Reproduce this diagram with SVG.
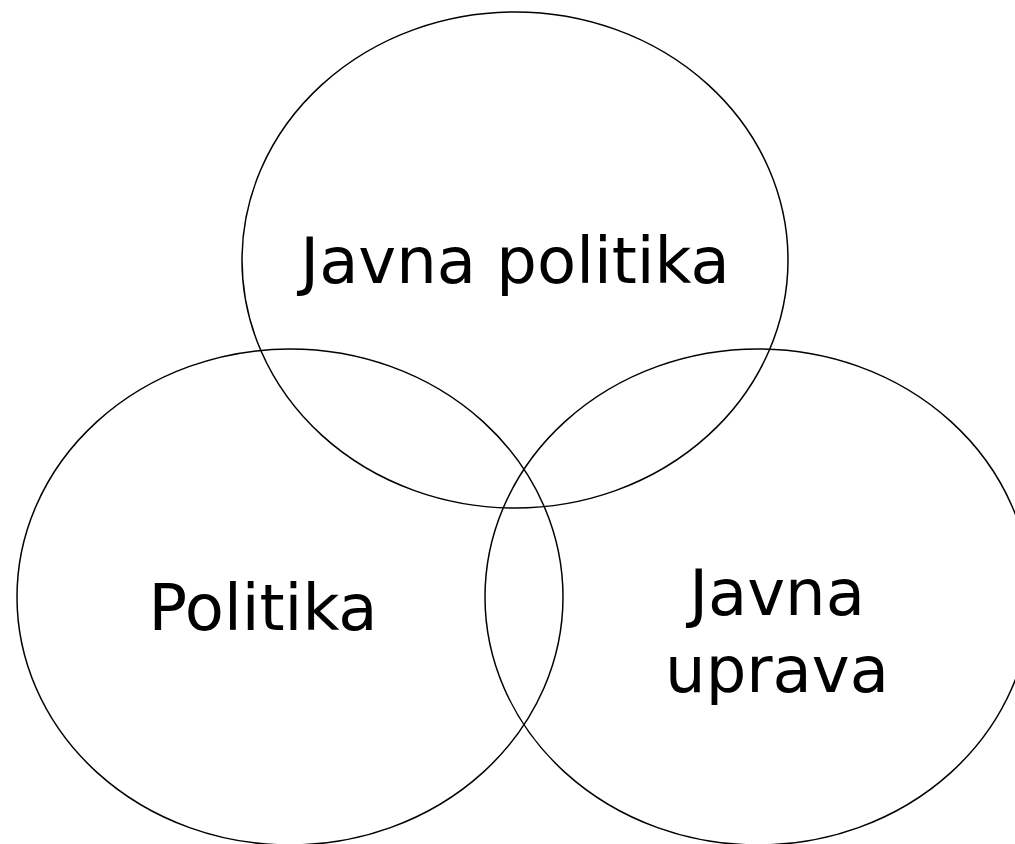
<svg xmlns="http://www.w3.org/2000/svg" width="1015" height="844" viewBox="0 0 1015 844">
<style>
.c{fill:none;stroke:#000;stroke-width:1.5}
.t{font-family:"DejaVu Sans",Verdana,sans-serif;font-size:64px;fill:#000;text-anchor:middle}
</style>
<rect width="1015" height="844" fill="#fff"/>
<g id="javna-politika">
<ellipse class="c" cx="515" cy="260" rx="273" ry="248"/>
<text class="t" x="515" y="283">Javna politika</text>
</g>
<g id="politika">
<ellipse class="c" cx="290" cy="597" rx="273" ry="248"/>
<text class="t" x="263" y="630">Politika</text>
</g>
<g id="javna-uprava">
<ellipse class="c" cx="758" cy="597" rx="273" ry="248"/>
<text class="t" x="777" y="615">Javna</text>
<text class="t" x="777" y="692">uprava</text>
</g>
<g id="connectors"/>
</svg>
